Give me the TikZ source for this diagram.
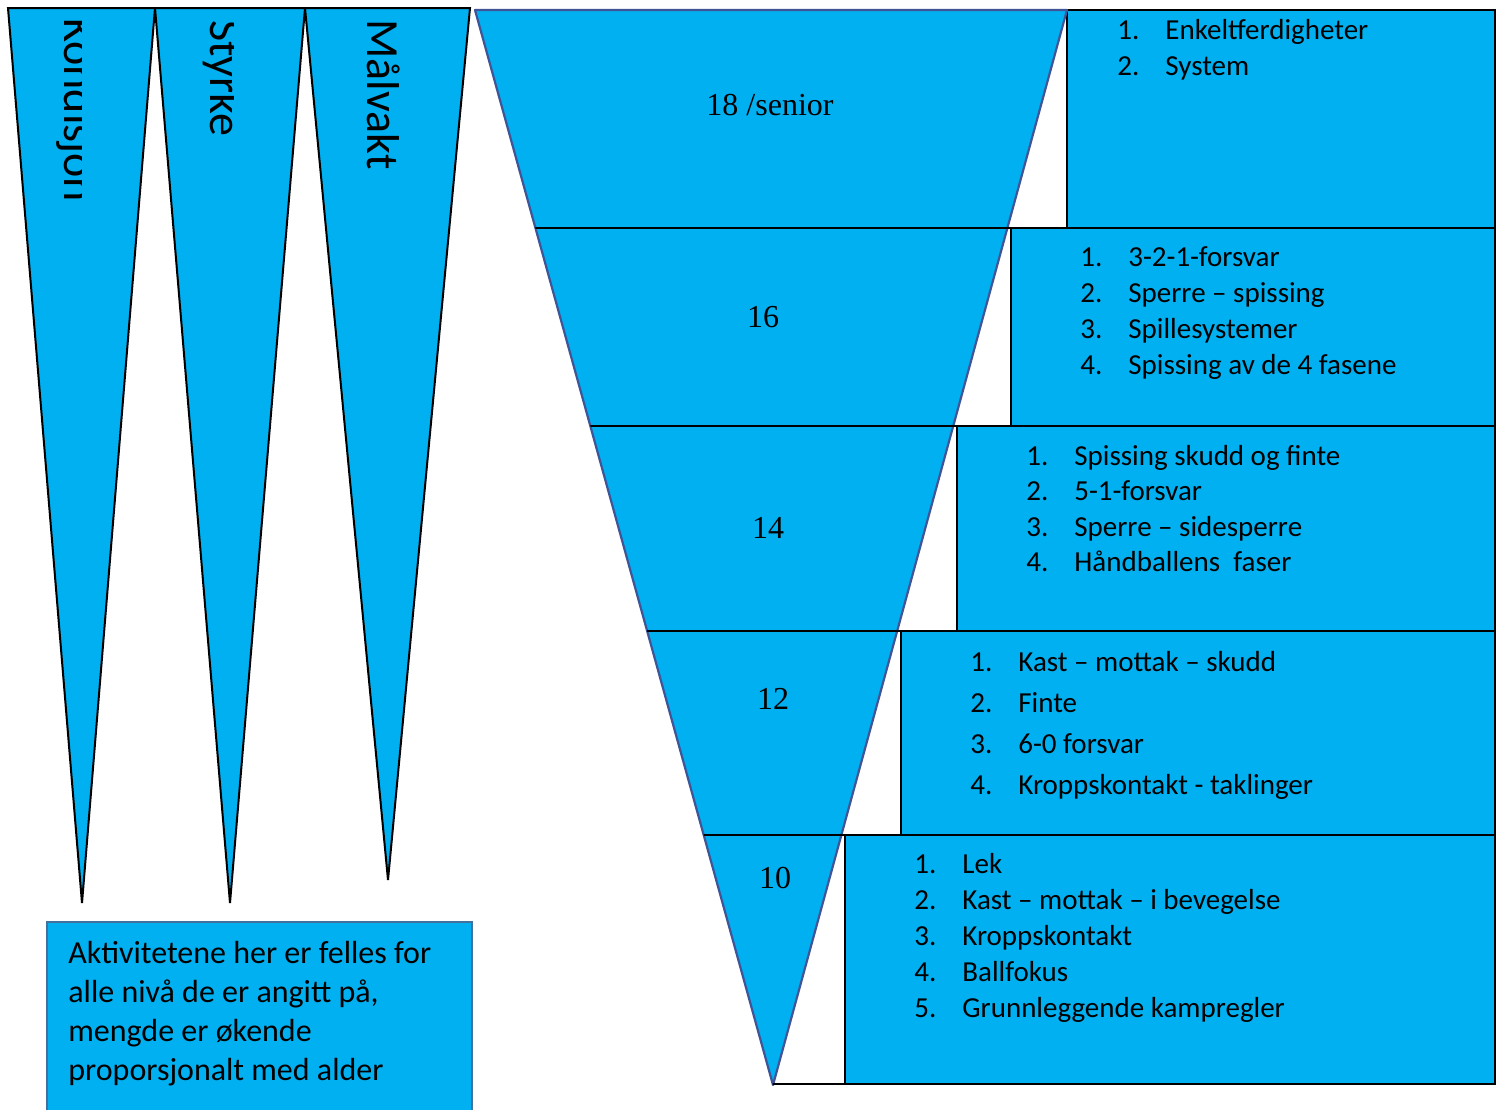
\documentclass[tikz,border=0pt]{standalone}
\usepackage{fontspec}
\setmainfont{Carlito}
\newfontfamily\serifnum{Liberation Serif}
\usetikzlibrary{calc}

\definecolor{skyfill}{HTML}{00B0F0}
\definecolor{funnelblue}{HTML}{3F5597}
\definecolor{noteblue}{HTML}{41719C}

\begin{document}
\begin{tikzpicture}[x=0.5pt, y=-0.5pt,
    wedge/.style={fill=skyfill, draw=black, line width=1pt},
    levelbox/.style={fill=skyfill, draw=black, line width=0.8pt},
    levelsep/.style={draw=black, line width=0.8pt},
    agelabel/.style={font=\serifnum\fontsize{16}{19}\selectfont, inner sep=0pt, anchor=base},
    item/.style={font=\fontsize{14.5}{18}\selectfont, inner sep=0pt, anchor=base west},
    notetext/.style={font=\fontsize{16}{19.5}\selectfont, inner sep=0pt, anchor=base west},
    sidetext/.style={font=\fontsize{23}{27}\selectfont, rotate=-90, inner sep=0pt, anchor=base west}]
    \useasboundingbox (0,0) rectangle (1497,1109);

    % three wedges on the left
    \draw[wedge] (8,8) -- (155,8) -- (82,903) -- cycle;
    \draw[wedge] (155,8) -- (305,8) -- (230,903) -- cycle;
    \draw[wedge] (305,8) -- (470,8) -- (388,880) -- cycle;

    \begin{scope}
        \clip (0,0) rectangle (81,300);
        \node[sidetext] (kondisjon) at (64,18) {Kondisjon};
    \end{scope}
    \begin{scope}
        \clip (155,0) rectangle (233,300);
        \node[sidetext] (styrke) at (210,20) {Styrke};
    \end{scope}
    \node[sidetext] (malvakt) at (367,19) {Målvakt};

    % note box
    \draw[fill=skyfill, draw=noteblue, line width=1pt] (47,922) rectangle (472,1115);
    \foreach \t [count=\i] in {{Aktivitetene her er felles for},{alle nivå de er angitt på,},{mengde er økende},{proporsjonalt med alder}}
        \node[notetext] (note\i) at (68,{963+39*(\i-1)}) {\t};

    % funnel
    \coordinate (tl) at (475,10);
    \coordinate (tr) at (1067,10);
    \coordinate (apex) at (773,1085);
    \fill[skyfill] (tl) -- (tr) -- (apex) -- cycle;

    \foreach \ytop/\ybot/\xb in {10/228/1067, 228/426/1011, 426/631/957, 631/835/901, 835/1084/845}
        \draw[levelbox] (\xb,\ytop) rectangle (1495,\ybot);

    \draw[funnelblue, line width=1.1pt, line join=round] (tl) -- (tr) -- (apex) -- cycle;

    \foreach \y/\xe in {228/1067, 426/1011, 631/957, 835/901, 1084/845}
        \draw[levelsep] ($(tl)!{(\y-10)/1075}!(apex)$) -- (\xe,\y);

    \node[agelabel] (senior) at (770,115) {18 /senior};
    \node[agelabel] (u16) at (763,327) {16};
    \node[agelabel] (u14) at (768,538) {14};
    \node[agelabel] (u12) at (773,709) {12};
    \node[agelabel] (u10) at (775,888) {10};

    % lists
    \foreach \t [count=\i] in {Enkeltferdigheter, System}
        \node[item] (a\i) at (1117,{39+36*(\i-1)}) {\makebox[24pt][l]{\i.}\t};
    \foreach \t [count=\i] in {3-2-1-forsvar, Sperre – spissing, Spillesystemer, Spissing av de 4 fasene}
        \node[item] (b\i) at (1080,{266+36*(\i-1)}) {\makebox[24pt][l]{\i.}\t};
    \foreach \t [count=\i] in {Spissing skudd og finte, 5-1-forsvar, Sperre – sidesperre, Håndballens~ faser}
        \node[item] (c\i) at (1026,{465+35.5*(\i-1)}) {\makebox[24pt][l]{\i.}\t};
    \foreach \t [count=\i] in {Kast – mottak – skudd, Finte, 6-0 forsvar, Kroppskontakt - taklinger}
        \node[item] (d\i) at (970,{671+41*(\i-1)}) {\makebox[24pt][l]{\i.}\t};
    \foreach \t [count=\i] in {Lek, Kast – mottak – i bevegelse, Kroppskontakt, Ballfokus, Grunnleggende kampregler}
        \node[item] (e\i) at (914,{873+36*(\i-1)}) {\makebox[24pt][l]{\i.}\t};
\end{tikzpicture}
\end{document}
